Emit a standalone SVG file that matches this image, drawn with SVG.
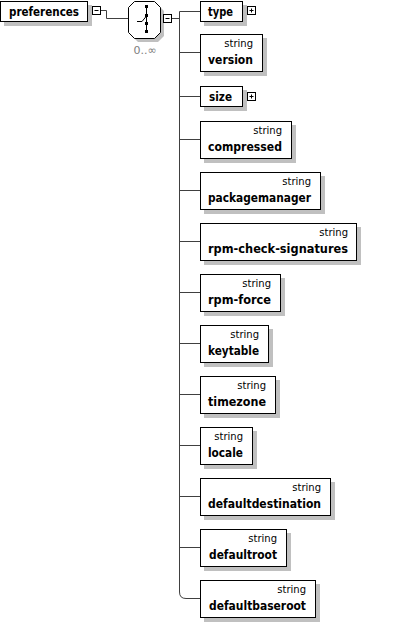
<svg xmlns="http://www.w3.org/2000/svg" width="400" height="623" viewBox="0 0 400 623">
<style>
.box{fill:#fff;stroke:#000;stroke-width:1}
.sh{fill:#c0c0c0}
.nm{font-family:"DejaVu Sans",sans-serif;font-weight:bold;font-size:12px;fill:#000}
.ty{font-family:"DejaVu Sans",sans-serif;font-size:10px;fill:#000;text-anchor:end}
.con{fill:none;stroke:#404040;stroke-width:1}
.btn{fill:#fff;stroke:#000;stroke-width:1}
.sym{stroke:#000;stroke-width:1;fill:none}
.occ{font-family:"DejaVu Sans",sans-serif;font-size:11px;fill:#808080;text-anchor:middle}
</style>
<rect width="400" height="623" fill="#fff"/>
<g id="connectors">
<path class="con" d="M100.5,10.5 H106.5 V18.5 H128.5"/>
<path class="con" d="M171.5,18.5 H179.5"/>
<path class="con" d="M179.5,11.5 V592 Q179.5,598.5 186,598.5 H200.5"/>
<path class="con" d="M179.5,11.5 H200.5 M179.5,52.5 H200.5 M179.5,96.5 H200.5 M179.5,139.5 H200.5 M179.5,190.5 H200.5 M179.5,241.5 H200.5 M179.5,292.5 H200.5 M179.5,343.5 H200.5 M179.5,394.5 H200.5 M179.5,445.5 H200.5 M179.5,496.5 H200.5 M179.5,547.5 H200.5"/>
</g>
<g id="preferences">
<rect class="sh" x="4" y="5" width="88" height="21"/>
<rect class="box" x="0.5" y="1.5" width="87" height="20"/>
<text class="nm" x="9" y="16" textLength="70" lengthAdjust="spacingAndGlyphs">preferences</text>
<rect class="btn" x="92.5" y="6.5" width="8" height="8"/>
<path class="sym" d="M94.5,10.5 H98.5"/>
</g>
<g id="choice">
<polygon class="sh" points="138,5 158,5 164,11 164,36 158,42 138,42 132,36 132,11"/>
<polygon class="box" points="134.5,1.5 154.5,1.5 160.5,7.5 160.5,32.5 154.5,38.5 134.5,38.5 128.5,32.5 128.5,7.5"/>
<path class="sym" d="M146.5,6 V31.5 M137,21.5 H142 L146.5,16"/>
<rect x="145" y="5" width="3" height="3" fill="#000"/>
<rect x="145" y="14" width="3" height="3" fill="#000"/>
<rect x="145" y="22" width="3" height="3" fill="#000"/>
<rect x="145" y="30" width="3" height="3" fill="#000"/>
<text class="occ" x="145" y="54">0..∞</text>
<rect class="btn" x="163.5" y="14.5" width="8" height="8"/>
<path class="sym" d="M165.5,18.5 H169.5"/>
</g>
<g id="type">
<rect class="sh" x="204" y="5" width="43" height="21"/>
<rect class="box" x="200.5" y="1.5" width="42" height="20"/>
<text class="nm" x="208" y="16" textLength="25" lengthAdjust="spacingAndGlyphs">type</text>
<rect class="btn" x="247.5" y="6.5" width="8" height="8"/>
<path class="sym" d="M249.5,10.5 H253.5 M251.5,8.5 V12.5"/>
</g>
<g id="version">
<rect class="sh" x="204" y="38" width="63" height="38"/>
<rect class="box" x="200.5" y="34.5" width="62" height="37"/>
<text class="ty" x="253" y="47">string</text>
<text class="nm" x="208" y="64" textLength="45" lengthAdjust="spacingAndGlyphs">version</text>
</g>
<g id="size">
<rect class="sh" x="204" y="90" width="43" height="21"/>
<rect class="box" x="200.5" y="86.5" width="42" height="20"/>
<text class="nm" x="209" y="101" textLength="23" lengthAdjust="spacingAndGlyphs">size</text>
<rect class="btn" x="247.5" y="92.5" width="8" height="8"/>
<path class="sym" d="M249.5,96.5 H253.5 M251.5,94.5 V98.5"/>
</g>
<g id="compressed">
<rect class="sh" x="204" y="125" width="92" height="38"/>
<rect class="box" x="200.5" y="121.5" width="91" height="37"/>
<text class="ty" x="282" y="134">string</text>
<text class="nm" x="208" y="151" textLength="74" lengthAdjust="spacingAndGlyphs">compressed</text>
</g>
<g id="packagemanager">
<rect class="sh" x="204" y="176" width="121" height="38"/>
<rect class="box" x="200.5" y="172.5" width="120" height="37"/>
<text class="ty" x="311" y="185">string</text>
<text class="nm" x="208" y="202" textLength="103" lengthAdjust="spacingAndGlyphs">packagemanager</text>
</g>
<g id="rpm-check-signatures">
<rect class="sh" x="204" y="227" width="157" height="38"/>
<rect class="box" x="200.5" y="223.5" width="156" height="37"/>
<text class="ty" x="348" y="236">string</text>
<text class="nm" x="208" y="253" textLength="140" lengthAdjust="spacingAndGlyphs">rpm-check-signatures</text>
</g>
<g id="rpm-force">
<rect class="sh" x="204" y="278" width="81" height="38"/>
<rect class="box" x="200.5" y="274.5" width="80" height="37"/>
<text class="ty" x="271" y="287">string</text>
<text class="nm" x="208" y="304" textLength="63" lengthAdjust="spacingAndGlyphs">rpm-force</text>
</g>
<g id="keytable">
<rect class="sh" x="204" y="329" width="69" height="38"/>
<rect class="box" x="200.5" y="325.5" width="68" height="37"/>
<text class="ty" x="259" y="338">string</text>
<text class="nm" x="208" y="355" textLength="51" lengthAdjust="spacingAndGlyphs">keytable</text>
</g>
<g id="timezone">
<rect class="sh" x="204" y="380" width="76" height="38"/>
<rect class="box" x="200.5" y="376.5" width="75" height="37"/>
<text class="ty" x="266" y="389">string</text>
<text class="nm" x="208" y="406" textLength="58" lengthAdjust="spacingAndGlyphs">timezone</text>
</g>
<g id="locale">
<rect class="sh" x="204" y="431" width="53" height="38"/>
<rect class="box" x="200.5" y="427.5" width="52" height="37"/>
<text class="ty" x="243" y="440">string</text>
<text class="nm" x="208" y="457" textLength="35" lengthAdjust="spacingAndGlyphs">locale</text>
</g>
<g id="defaultdestination">
<rect class="sh" x="204" y="482" width="131" height="38"/>
<rect class="box" x="200.5" y="478.5" width="130" height="37"/>
<text class="ty" x="321" y="491">string</text>
<text class="nm" x="208" y="508" textLength="113" lengthAdjust="spacingAndGlyphs">defaultdestination</text>
</g>
<g id="defaultroot">
<rect class="sh" x="204" y="533" width="87" height="38"/>
<rect class="box" x="200.5" y="529.5" width="86" height="37"/>
<text class="ty" x="277" y="542">string</text>
<text class="nm" x="209" y="559" textLength="68" lengthAdjust="spacingAndGlyphs">defaultroot</text>
</g>
<g id="defaultbaseroot">
<rect class="sh" x="204" y="584" width="116" height="38"/>
<rect class="box" x="200.5" y="580.5" width="115" height="37"/>
<text class="ty" x="306" y="593">string</text>
<text class="nm" x="209" y="610" textLength="97" lengthAdjust="spacingAndGlyphs">defaultbaseroot</text>
</g>
</svg>
